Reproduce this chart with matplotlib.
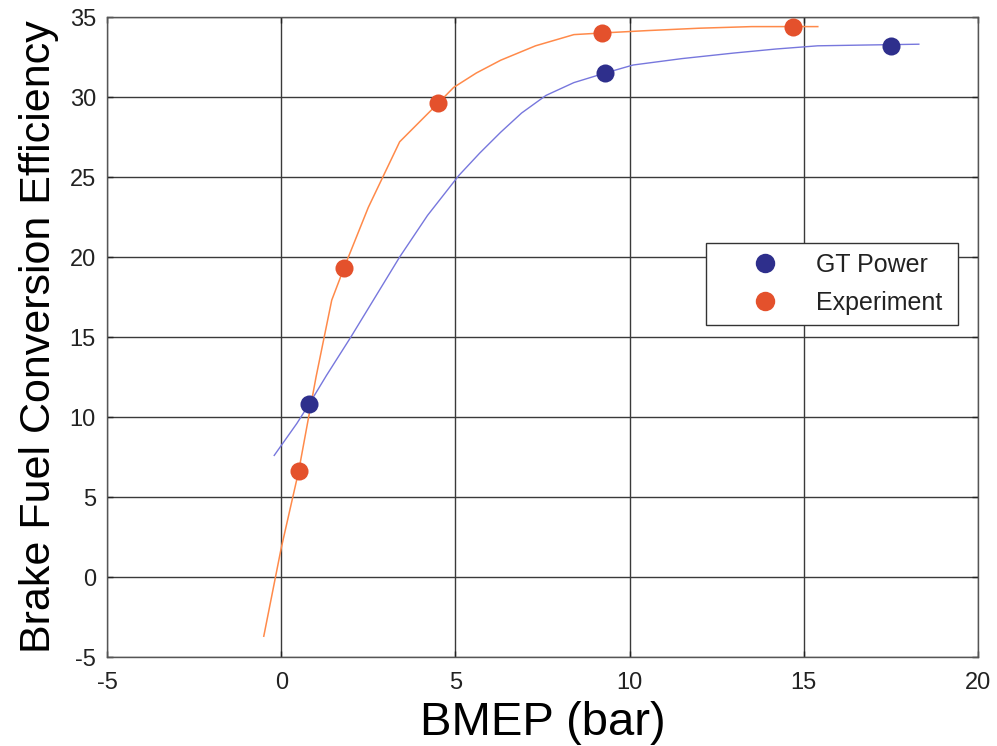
#!/usr/bin/env python3
"""
Brake fuel conversion efficiency vs BMEP: GT Power model against experiment.
"""

import matplotlib

matplotlib.use("Agg")
import matplotlib.pyplot as plt
from matplotlib.lines import Line2D

# measured / simulated operating points
gt_bmep = [0.8, 9.3, 17.5]
gt_eff = [10.8, 31.5, 33.2]
exp_bmep = [0.5, 1.8, 4.5, 9.2, 14.7]
exp_eff = [6.6, 19.3, 29.6, 34.0, 34.4]

# fitted curves (vertices)
gt_curve_x = [-0.2, 0.45, 0.8, 1.3, 2.0, 2.7, 3.4, 4.2, 5.1, 5.7, 6.3, 6.9,
              7.6, 8.4, 9.3, 10.1, 11.5, 13.0, 14.2, 15.4, 16.8, 18.3]
gt_curve_y = [7.6, 9.6, 10.8, 12.6, 15.0, 17.5, 20.0, 22.6, 25.1, 26.5, 27.8,
              29.0, 30.1, 30.9, 31.5, 32.0, 32.4, 32.75, 33.0, 33.2, 33.25, 33.3]
exp_curve_x = [-0.5, 0.0, 0.5, 1.0, 1.45, 1.8, 2.5, 3.4, 4.5, 4.95, 5.6, 6.3,
               7.3, 8.4, 9.2, 10.5, 12.0, 13.5, 14.7, 15.4]
exp_curve_y = [-3.7, 1.8, 6.6, 12.5, 17.3, 19.3, 23.1, 27.2, 29.6, 30.6, 31.5,
               32.3, 33.2, 33.9, 34.0, 34.15, 34.3, 34.4, 34.4, 34.4]

GT_LINE = "#7777dd"
GT_MARK = "#2e2f8c"
EXP_LINE = "#ff8a4a"
EXP_MARK = "#e4512c"

plt.rcParams["font.family"] = ["Liberation Sans", "DejaVu Sans"]
plt.rcParams["axes.unicode_minus"] = False

fig = plt.figure(figsize=(9.97, 7.46), dpi=100)
ax = fig.add_axes([0.1073, 0.1193, 0.8737, 0.8579])

ax.plot(gt_curve_x, gt_curve_y, "-", lw=1.0, color=GT_LINE, zorder=2)
ax.plot(exp_curve_x, exp_curve_y, "-", lw=1.1, color=EXP_LINE, zorder=2)
ax.plot(gt_bmep, gt_eff, "o", ms=13, color=GT_MARK, mec="none", zorder=3)
ax.plot(exp_bmep, exp_eff, "o", ms=13, color=EXP_MARK, mec="none", zorder=3)

ax.set_xlim(-5, 20)
ax.set_ylim(-5, 35)
ax.set_xticks(range(-5, 21, 5))
ax.set_yticks(range(-5, 36, 5))
ax.grid(True, color="#3a3a3a", lw=1.0)
ax.set_axisbelow(True)
for sp in ax.spines.values():
    sp.set_color("#555555")
    sp.set_linewidth(1.0)
ax.tick_params(direction="in", length=4, width=1, labelsize=17, pad=8,
               colors="#222222", top=True, right=True)
ax.tick_params(axis="x", pad=11)

ax.set_xlabel("BMEP (bar)", fontsize=34, labelpad=5)
ax.set_ylabel("Brake Fuel Conversion Efficiency", fontsize=31, labelpad=8)

handles = [
    Line2D([], [], ls="none", marker="o", ms=14, color=GT_MARK, mec="none"),
    Line2D([], [], ls="none", marker="o", ms=14, color=EXP_MARK, mec="none"),
]
leg = ax.legend(handles, ["GT Power", "Experiment"], loc="upper left",
                bbox_to_anchor=(706 / 997, 1 - 321 / 746, 252 / 997, 78 / 746),
                bbox_transform=fig.transFigure, mode="expand", fontsize=18,
                fancybox=False, framealpha=1, edgecolor="#333333",
                borderpad=0.4, handletextpad=0.1, labelspacing=0.55,
                borderaxespad=0, handlelength=3.9)
leg.get_frame().set_linewidth(1.0)
for t in leg.get_texts():
    t.set_color("#222222")

fig.savefig("out.png", dpi=100)
